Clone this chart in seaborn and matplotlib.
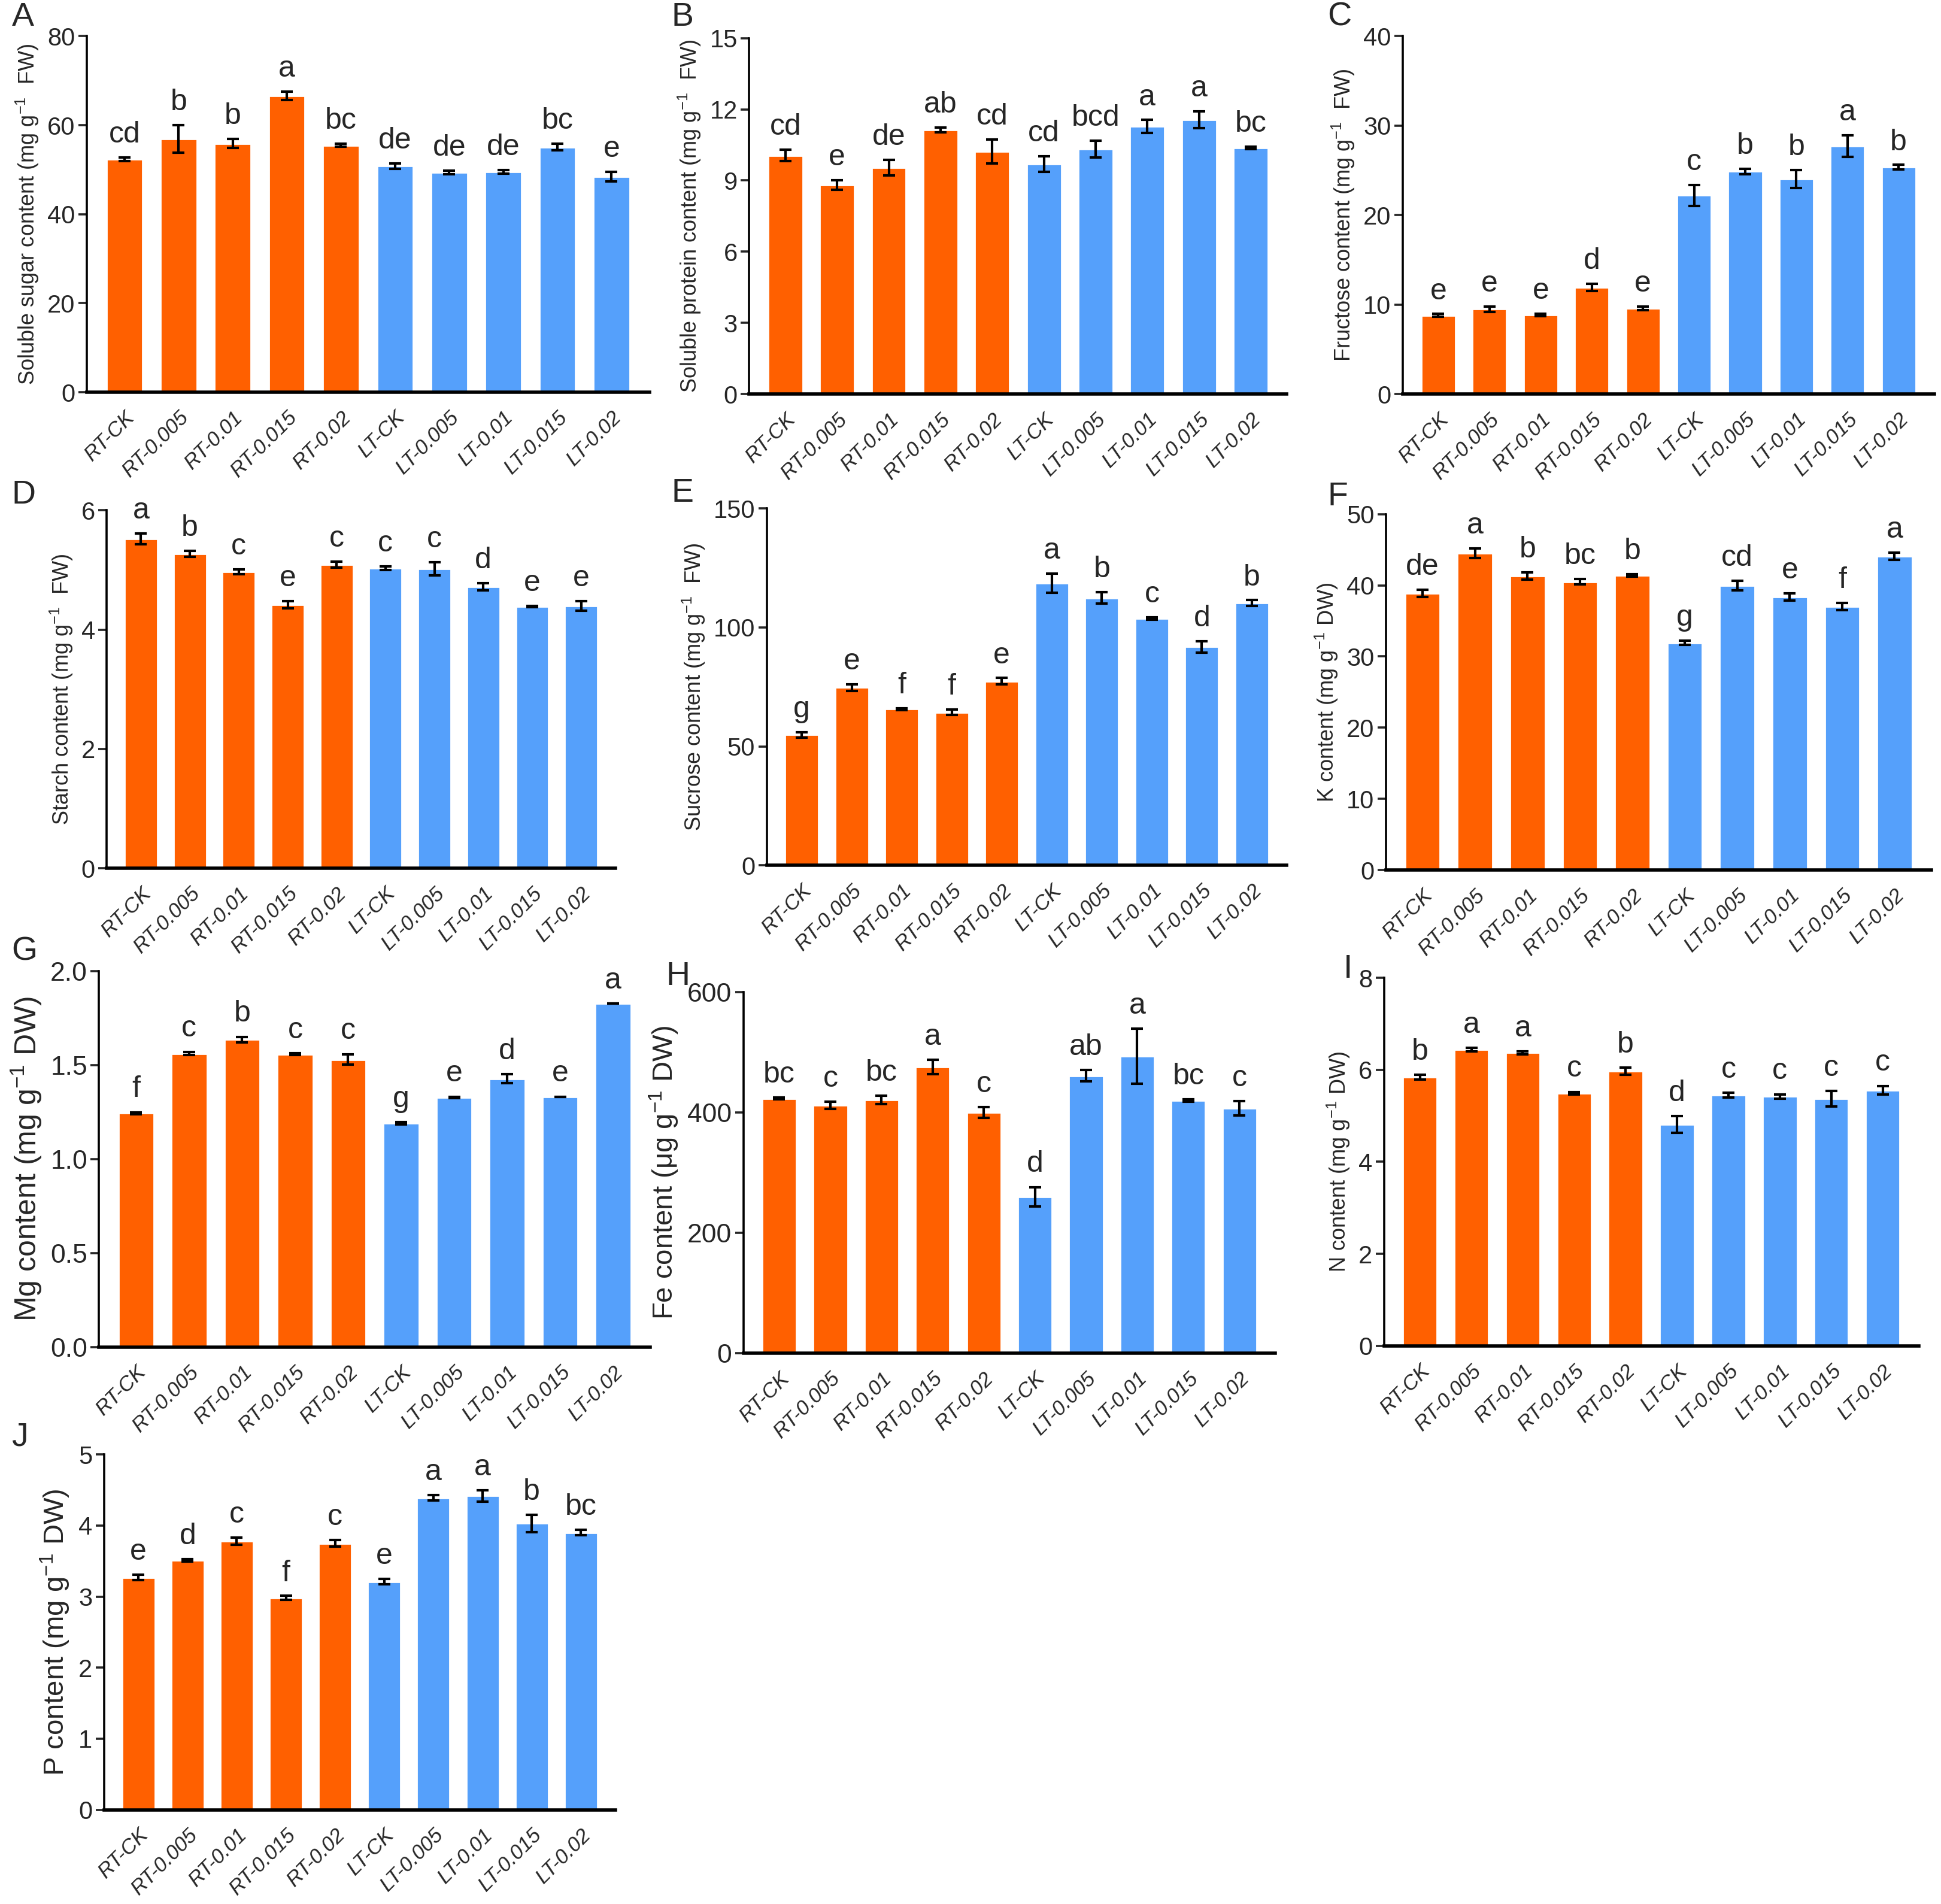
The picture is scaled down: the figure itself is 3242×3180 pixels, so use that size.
import numpy as np
import matplotlib
matplotlib.use("Agg")
import matplotlib.pyplot as plt
import seaborn as sns


# ---- data (mean, SE, significance letters) ----
groups = ["RT-CK", "RT-0.005", "RT-0.01", "RT-0.015", "RT-0.02",
          "LT-CK", "LT-0.005", "LT-0.01", "LT-0.015", "LT-0.02"]

sugar_mean = [52.4, 56.9, 55.9, 66.6, 55.5, 50.8, 49.4, 49.5, 55.1, 48.4]
sugar_se = [0.4, 3.1, 1.0, 1.0, 0.3, 0.6, 0.4, 0.4, 0.8, 1.1]
sugar_sig = ["cd", "b", "b", "a", "bc", "de", "de", "de", "bc", "e"]

protein_mean = [10.05, 8.82, 9.54, 11.13, 10.22, 9.69, 10.33, 11.28, 11.56, 10.37]
protein_se = [0.24, 0.2, 0.33, 0.1, 0.5, 0.33, 0.35, 0.27, 0.36, 0.05]
protein_sig = ["cd", "e", "de", "ab", "cd", "cd", "bcd", "a", "a", "bc"]

fructose_mean = [8.8, 9.5, 8.84, 11.95, 9.6, 22.2, 24.9, 24.06, 27.7, 25.36]
fructose_se = [0.15, 0.3, 0.12, 0.4, 0.2, 1.2, 0.3, 1.0, 1.2, 0.25]
fructose_sig = ["e", "e", "e", "d", "e", "c", "b", "b", "a", "b"]

starch_mean = [5.52, 5.27, 4.97, 4.42, 5.09, 5.03, 5.02, 4.72, 4.39, 4.40]
starch_se = [0.09, 0.05, 0.04, 0.06, 0.05, 0.03, 0.11, 0.06, 0.01, 0.08]
starch_sig = ["a", "b", "c", "e", "c", "c", "c", "d", "e", "e"]

sucrose_mean = [54.8, 74.7, 65.7, 64.3, 77.4, 118.6, 112.4, 103.7, 91.8, 110.2]
sucrose_se = [1.2, 1.3, 0.4, 1.2, 1.3, 4.0, 2.4, 0.6, 2.4, 1.2]
sucrose_sig = ["g", "e", "f", "f", "e", "a", "b", "c", "d", "b"]

k_mean = [38.9, 44.5, 41.3, 40.5, 41.4, 31.9, 39.95, 38.4, 37.05, 44.1]
k_se = [0.5, 0.65, 0.5, 0.4, 0.2, 0.3, 0.7, 0.5, 0.5, 0.5]
k_sig = ["de", "a", "b", "bc", "b", "g", "cd", "e", "f", "a"]

mg_mean = [1.243, 1.561, 1.635, 1.558, 1.529, 1.19, 1.327, 1.426, 1.331, 1.826]
mg_se = [0.005, 0.008, 0.015, 0.004, 0.027, 0.005, 0.004, 0.024, 0.0, 0.0]
mg_sig = ["f", "c", "b", "c", "c", "g", "e", "d", "e", "a"]

fe_mean = [423, 411.4, 421, 475.8, 399.7, 260, 461, 493.2, 420, 406.8]
fe_se = [1.5, 6, 7, 12, 9, 16, 9, 46, 2, 12]
fe_sig = ["bc", "c", "bc", "a", "c", "d", "ab", "a", "bc", "c"]

n_mean = [5.84, 6.44, 6.37, 5.49, 5.97, 4.81, 5.45, 5.42, 5.37, 5.56]
n_se = [0.05, 0.04, 0.03, 0.03, 0.08, 0.18, 0.05, 0.05, 0.17, 0.09]
n_sig = ["b", "a", "a", "c", "b", "d", "c", "c", "c", "c"]

p_mean = [3.27, 3.51, 3.78, 2.98, 3.75, 3.21, 4.39, 4.42, 4.03, 3.90]
p_se = [0.04, 0.02, 0.05, 0.03, 0.05, 0.04, 0.04, 0.08, 0.12, 0.04]
p_sig = ["e", "d", "c", "f", "c", "e", "a", "a", "b", "bc"]


# color
rt_color = "#FF6000"
lt_color = "#55A0FB"
palette = [rt_color] * 5 + [lt_color] * 5

sns.set_theme(style="ticks")
plt.rcParams['font.family'] = ['Liberation Sans', 'DejaVu Sans']
plt.rcParams['mathtext.default'] = 'regular'

fig = plt.figure(figsize=(16.21, 15.9), dpi=200)

# letter, ylabel, mean, se, sig, ymax, step, [left, bottom, width, height], label pos, ylabel size
panels = [
    ("A", "Soluble sugar content (mg g$^{-1}$  FW)", sugar_mean, sugar_se, sugar_sig, 80, 20,
     [0.0446, 0.794, 0.290, 0.187], (0.006, 0.991), 13),
    ("B", "Soluble protein content (mg g$^{-1}$  FW)", protein_mean, protein_se, protein_sig, 15, 3,
     [0.386, 0.793, 0.277, 0.187], (0.346, 0.991), 13),
    ("C", "Fructose content (mg g$^{-1}$  FW)", fructose_mean, fructose_se, fructose_sig, 40, 10,
     [0.7226, 0.793, 0.274, 0.188], (0.684, 0.991), 13),
    ("D", "Starch content (mg g$^{-1}$  FW)", starch_mean, starch_se, starch_sig, 6, 2,
     [0.055, 0.544, 0.262, 0.188], (0.006, 0.740), 13),
    ("E", "Sucrose content (mg g$^{-1}$  FW)", sucrose_mean, sucrose_se, sucrose_sig, 150, 50,
     [0.395, 0.5455, 0.268, 0.1875], (0.346, 0.741), 13),
    ("F", "K content (mg g$^{-1}$ DW)", k_mean, k_se, k_sig, 50, 10,
     [0.714, 0.543, 0.281, 0.187], (0.684, 0.739), 13),
    ("G", "Mg content (mg g$^{-1}$ DW)", mg_mean, mg_se, mg_sig, 2.0, 0.5,
     [0.051, 0.2926, 0.284, 0.1974], (0.006, 0.500), 18),
    ("H", "Fe content (μg g$^{-1}$ DW)", fe_mean, fe_se, fe_sig, 600, 200,
     [0.383, 0.2893, 0.274, 0.1897], (0.343, 0.487), 17),
    ("I", "N content (mg g$^{-1}$ DW)", n_mean, n_se, n_sig, 8, 2,
     [0.713, 0.2932, 0.2755, 0.1932], (0.692, 0.491), 13),
    ("J", "P content (mg g$^{-1}$ DW)", p_mean, p_se, p_sig, 5, 1,
     [0.0536, 0.0495, 0.2634, 0.1866], (0.006, 0.245), 17),
]

x = np.arange(len(groups))

for tag, ylab, means, ses, sigs, ymax, step, rect, tpos, ysize in panels:
    ax = fig.add_axes(rect)
    sns.barplot(x=groups, y=means, hue=groups, palette=palette, width=0.67,
                legend=False, ax=ax, saturation=1)
    ax.errorbar(x, means, yerr=ses, fmt='none', ecolor='black',
                elinewidth=1.5, capsize=3.5, capthick=1.5)

    for xi, m, s, lab in zip(x, means, ses, sigs):
        ax.text(xi, m + s + 0.025 * ymax, lab, ha='center', va='bottom', fontsize=18)

    yt = np.arange(0, ymax + step / 2, step)
    ax.set_ylim(0, ymax)
    ax.set_yticks(yt)
    if tag == "G":
        ax.set_yticklabels([f"{v:.1f}" for v in yt])
    else:
        ax.set_yticklabels([f"{v:g}" for v in yt])
    ax.tick_params(axis='y', labelsize=16 if tag in "GH" else 15)
    ax.set_xlim(-0.7, 9.7)
    ax.set_xticks(x)
    ax.set_xticklabels(groups, rotation=45, ha='right', rotation_mode='anchor',
                       fontstyle='italic', fontsize=12.5)
    ax.tick_params(axis='x', length=0, pad=9)
    ax.tick_params(axis='y', length=5, width=1.3, direction='out', pad=2)
    ax.set_ylabel(ylab, fontsize=ysize)
    ax.set_xlabel("")
    sns.despine(ax=ax)
    ax.spines['left'].set_linewidth(1.3)
    ax.spines['bottom'].set_linewidth(2)
    ax.spines['left'].set_color('black')
    ax.spines['bottom'].set_color('black')

    fig.text(tpos[0], tpos[1], tag, fontsize=20, ha='left', va='center')

plt.savefig("out.png", dpi=200)
